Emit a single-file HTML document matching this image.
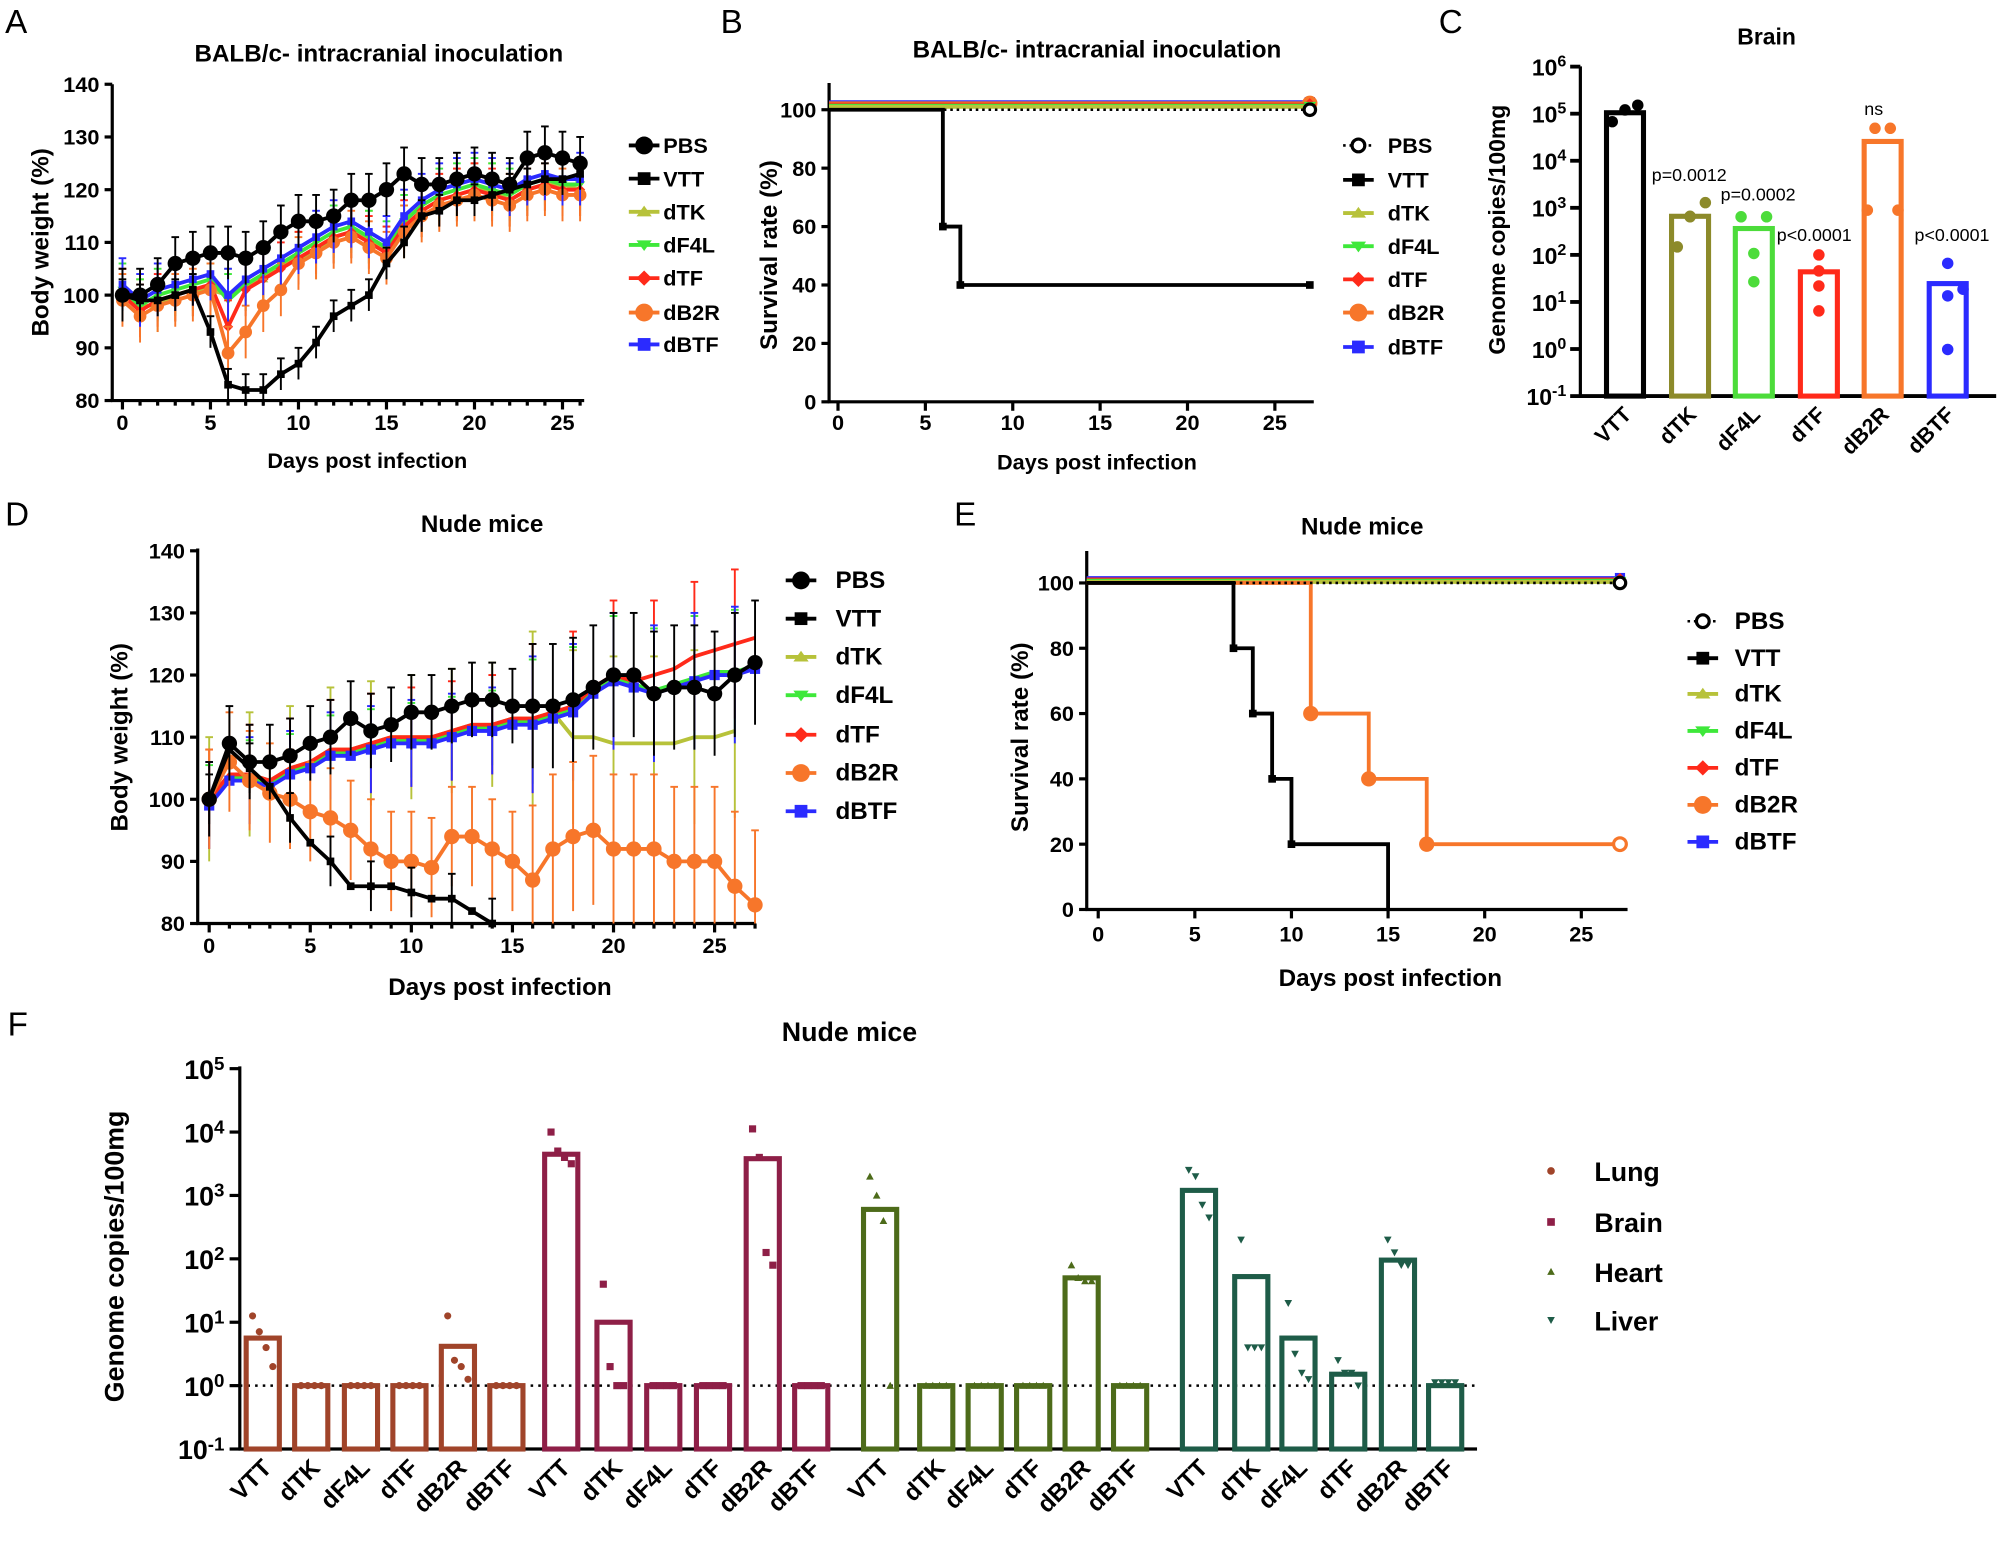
<!DOCTYPE html>
<html><head><meta charset="utf-8"><style>
html,body{margin:0;padding:0;background:#fff}
svg{display:block}
text{font-family:"Liberation Sans",Arial,sans-serif;font-weight:bold;fill:#000}
.t{font-size:17px}.pl{font-size:26px;font-weight:normal}
</style></head><body>
<svg id="s" width="2000" height="1546" viewBox="0 0 1568 1212" xmlns="http://www.w3.org/2000/svg">
<g id="g"></g>
<text class="pl" x="4" y="26">A</text><text class="pl" x="565" y="26">B</text><text class="pl" x="1128" y="26">C</text>
<text class="pl" x="4" y="412">D</text><text class="pl" x="748" y="412">E</text><text class="pl" x="6" y="812">F</text>
<text x="297" y="48" text-anchor="middle" style="font-size:19px">BALB/c- intracranial inoculation</text>
<text x="860" y="45" text-anchor="middle" style="font-size:19px">BALB/c- intracranial inoculation</text>
<text x="1385" y="35" text-anchor="middle" style="font-size:18px">Brain</text>
<text x="378" y="417" text-anchor="middle" style="font-size:19px">Nude mice</text>
<text x="1068" y="419" text-anchor="middle" style="font-size:19px">Nude mice</text>
<text x="666" y="816" text-anchor="middle" style="font-size:21px">Nude mice</text>
<text x="288" y="367" text-anchor="middle" class="t">Days post infection</text>
<text x="860" y="368" text-anchor="middle" class="t">Days post infection</text>
<text x="392" y="780" text-anchor="middle" style="font-size:19px">Days post infection</text>
<text x="1090" y="773" text-anchor="middle" style="font-size:19px">Days post infection</text>
<text transform="translate(38,190) rotate(-90)" text-anchor="middle" style="font-size:19px">Body weight (%)</text>
<text transform="translate(609,200) rotate(-90)" text-anchor="middle" style="font-size:19px">Survival rate (%)</text>
<text transform="translate(1180,180) rotate(-90)" text-anchor="middle" style="font-size:18px">Genome copies/100mg</text>
<text transform="translate(100,578) rotate(-90)" text-anchor="middle" style="font-size:19px">Body weight (%)</text>
<text transform="translate(806,578) rotate(-90)" text-anchor="middle" style="font-size:19px">Survival rate (%)</text>
<text transform="translate(97,985) rotate(-90)" text-anchor="middle" style="font-size:21px">Genome copies/100mg</text>
<g style="font-size:14px">
<text x="1295" y="142" style="font-weight:normal">p=0.0012</text>
<text x="1349" y="157" style="font-weight:normal">p=0.0002</text>
<text x="1393" y="189" style="font-weight:normal">p&lt;0.0001</text>
<text x="1469" y="90" text-anchor="middle" style="font-weight:normal">ns</text>
<text x="1501" y="189" style="font-weight:normal">p&lt;0.0001</text>
</g>
</svg>
<script>
const g=document.getElementById('g');const NS='http://www.w3.org/2000/svg';
function el(t,a,p){const e=document.createElementNS(NS,t);for(const k in a)e.setAttribute(k,a[k]);(p||g).appendChild(e);return e}
function tx(x,y,s,o){o=o||{};const e=el('text',Object.assign({x,y,'text-anchor':o.a||'middle','font-size':o.fs||16},o.at||{}));e.textContent=s;if(o.tr)e.setAttribute('transform',o.tr);return e}
function ln(x1,y1,x2,y2,c,w,d){return el('line',{x1,y1,x2,y2,stroke:c||'#000','stroke-width':w||2.5,'stroke-dasharray':d||''})}
function pl(pts,c,w,d){return el('polyline',{points:pts.map(p=>p.join(',')).join(' '),fill:'none',stroke:c,'stroke-width':w||3,'stroke-dasharray':d||''})}
function sup(x,y,e,fs){const t=el('text',{x,y,'text-anchor':'end','font-size':fs||16});t.textContent='10';const s=el('tspan',{dy:-7,'font-size':(fs||16)*0.7},t);s.textContent=e;}
const C={PBS:'#000',VTT:'#000',dTK:'#b7c23a',dF4L:'#3ee83a',dTF:'#ff2a1a',dB2R:'#f7762a',dBTF:'#2b2bff'};
function mk(x,y,n,r){r=r||5;const c=C[n];
 if(n=='PBS'||n=='dB2R')el('circle',{cx:x,cy:y,r:r+1,fill:c});
 else if(n=='VTT'||n=='dBTF')el('rect',{x:x-r+1,y:y-r+1,width:2*r-2,height:2*r-2,fill:c});
 else if(n=='dTK')el('path',{d:`M${x-r},${y+r*0.6}L${x+r},${y+r*0.6}L${x},${y-r*0.8}Z`,fill:c});
 else if(n=='dF4L')el('path',{d:`M${x-r},${y-r*0.6}L${x+r},${y-r*0.6}L${x},${y+r*0.8}Z`,fill:c});
 else el('path',{d:`M${x-r},${y}L${x},${y-r}L${x+r},${y}L${x},${y+r}Z`,fill:c});}
function legend(x,tx0,ys,fs,dash){const ns=['PBS','VTT','dTK','dF4L','dTF','dB2R','dBTF'];ns.forEach((n,i)=>{
 if(n=='PBS'&&dash){ln(x-12,ys[i],x+12,ys[i],'#000',2,'2,3');el('circle',{cx:x,cy:ys[i],r:5,fill:'#fff',stroke:'#000','stroke-width':2.5})}
 else{ln(x-12,ys[i],x+12,ys[i],C[n],3);mk(x,ys[i],n,6)}
 tx(tx0,ys[i]+6,n,{a:'start',fs:fs,at:{'font-weight':'bold'}})})}
(function(){const X=d=>96+d*13.8,Y=v=>314-(v-80)*4.133;
ln(88,66,88,315);ln(87,314,458,314);
[80,90,100,110,120,130,140].forEach(v=>{ln(82,Y(v),88,Y(v));tx(78,Y(v)+6,v,{a:'end',fs:17})});
for(let d=0;d<=26;d++){ln(X(d),314,X(d),d%5==0?321:318)}
[0,5,10,15,20,25].forEach(d=>tx(X(d),337,d,{fs:17}));
const base=[100,97,99,100,101,102,98,101,103,105,107,109,111,112,110,108,113,116,118,119,120,119,118,120,121,120,120];
const S={dTK:base.map((v,i)=>v+[0,1,-1,0,0,-1,2,1,0,1,0,-1,0,0,1,0,-1,0,0,0,0,1,0,0,0,1,0][i]),
dF4L:base.map((v,i)=>v+1),dTF:base.map((v,i)=>v+(i==6?-4:0)),
dB2R:base.map((v,i)=>i==6?89:i==7?93:i==8?98:i==9?101:v-1),dBTF:base.map((v,i)=>v+2),
VTT:[100,99,99,100,101,93,83,82,82,85,87,91,96,98,100,106,110,115,116,118,118,119,120,121,122,122,123],
PBS:[100,100,102,106,107,108,108,107,109,112,114,114,115,118,118,120,123,121,121,122,123,122,121,126,127,126,125]};
['dTK','dF4L','dTF','dB2R','dBTF','VTT','PBS'].forEach(n=>{const a=S[n];
 a.forEach((v,i)=>{const e=n=='VTT'?3:5;ln(X(i),Y(v-e),X(i),Y(v+e),C[n],1.5);ln(X(i)-3,Y(v+e),X(i)+3,Y(v+e),C[n],1.5)});
 pl(a.map((v,i)=>[X(i),Y(v)]),C[n],3);a.forEach((v,i)=>mk(X(i),Y(v),n,n=='PBS'?5:4))});
legend(505,520,[114,140,166,192,218,245,270],17,false);})();
(function(){const X=d=>657+d*13.7,Y=v=>315-v*2.29;
ln(650,65,650,316);ln(649,315,1030,315);
[0,20,40,60,80,100].forEach(v=>{ln(644,Y(v),650,Y(v));tx(640,Y(v)+6,v,{a:'end',fs:17})});
[0,5,10,15,20,25].forEach(d=>{ln(X(d),315,X(d),322);tx(X(d),337,d,{fs:17})});
['dBTF','dB2R','dTF','dF4L','dTK'].forEach((n,i)=>{const y=Y(101+ (4-i)*0.4);ln(650,y,X(27),y,C[n],3);mk(X(27),y,n,5)});
ln(650,Y(100),X(27),Y(100),'#000',2,'2,3');el('circle',{cx:X(27),cy:Y(100),r:4.5,fill:'#fff',stroke:'#000','stroke-width':2.5});
pl([[650,Y(100)],[X(6),Y(100)],[X(6),Y(60)],[X(7),Y(60)],[X(7),Y(40)],[X(27),Y(40)]],'#000',3);
mk(X(6),Y(60),'VTT',4);mk(X(7),Y(40),'VTT',4);mk(X(27),Y(40),'VTT',4);
legend(1065,1088,[114,141,167,193,219,245,272],17,true);})();
(function(){const Y=e=>310.5-(e+1)*36.9;
ln(1239,52,1239,311);ln(1238,310.5,1565,310.5,'#000',3);
[-1,0,1,2,3,4,5,6].forEach(e=>{ln(1231,Y(e),1239,Y(e),'#000',3);sup(1228,Y(e)+7,e,18)});
const bars=[['VTT',1274,'#000',5.02,[4.83,5.08,5.18]],['dTK',1325,'#8c8a2a',2.82,[2.17,2.81,2.82,3.11]],['dF4L',1375,'#4cdc3a',2.56,[2.81,2.03,1.43,2.81]],
['dTF',1426,'#ff2a1a',1.64,[2.0,1.66,1.34,0.81]],['dB2R',1476,'#f7762a',4.41,[2.95,4.69,4.69,2.95]],['dBTF',1527,'#2b2bff',1.39,[1.82,1.13,-0.01,1.27]]];
bars.forEach(b=>{el('rect',{x:b[1]-14.5,y:Y(b[3]),width:29,height:310.5-Y(b[3]),fill:'none',stroke:b[2],'stroke-width':4});
 const n=b[4].length;b[4].forEach((e,i)=>{let px=n==3?b[1]-10+i*10:(b[0]=='dB2R'?[b[1]-12,b[1]-6,b[1]+6,b[1]+12][i]:(b[0]=='dF4L'?[b[1]-10,b[1],b[1],b[1]+10][i]:[b[1]-10,b[1],b[1],b[1]+12][i]));
  if(b[0]=='dTF'||b[0]=='dBTF')px=b[1]+(i==3&&b[0]=='dBTF'?12:0);
  el('circle',{cx:px,cy:Y(e),r:4.5,fill:b[2]})});
 tx(b[1]+6,326,b[0],{a:'end',fs:17,tr:`rotate(-45 ${b[1]+6} 326)`,at:{'font-weight':'bold'}})});})();
(function(){const X=d=>164+d*15.85,Y=v=>724-(v-80)*4.87;
ln(155,430,155,725);ln(154,724,592,724);
[80,90,100,110,120,130,140].forEach(v=>{ln(149,Y(v),155,Y(v));tx(145,Y(v)+6,v,{a:'end',fs:17})});
for(let d=0;d<=27;d++)ln(X(d),724,X(d),d%5==0?731:728);
[0,5,10,15,20,25].forEach(d=>tx(X(d),747,d,{fs:17}));
const ot=[100,104,104,103,105,106,108,108,109,110,110,110,111,112,112,113,113,114,115,118,120,119,118,119,120,121,121,122];
const S={dTK:ot.map((v,i)=>i<18?v:[110,110,109,109,109,109,110,110,111][i-18]),dF4L:ot.map(v=>v-0.5),
dTF:ot.map((v,i)=>i<21?v:[119,119,120,121,123,124,125,126][i-20]),dBTF:ot.map((v,i)=>v-1),
dB2R:[100,106,103,101,100,98,97,95,92,90,90,89,94,94,92,90,87,92,94,95,92,92,92,90,90,90,86,83],
VTT:[100,108,105,102,97,93,90,86,86,86,85,84,84,82,80],
PBS:[100,109,106,106,107,109,110,113,111,112,114,114,115,116,116,115,115,115,116,118,120,120,117,118,118,117,120,122]};
const E={dTK:10,dF4L:6,dTF:8,dBTF:7,dB2R:8,VTT:4,PBS:6};
['dTK','dF4L','dTF','dBTF','dB2R','VTT','PBS'].forEach(n=>{const a=S[n];
 a.forEach((v,i)=>{let e=E[n]+(n!='VTT'&&i>15?4:0);if(i%2&&n!='PBS'&&n!='dB2R')return;ln(X(i),Y(Math.max(80,v-e)),X(i),Y(v+e),C[n],1.5);ln(X(i)-3,Y(v+e),X(i)+3,Y(v+e),C[n],1.5)});
 pl(a.map((v,i)=>[X(i),Y(v)]),C[n],3);
 if(n=='PBS'||n=='VTT'||n=='dB2R'||n=='dBTF')a.forEach((v,i)=>mk(X(i),Y(v),n,n=='VTT'?4:5))});
legend(628,655,[455,485,515,545,576,606,636],19,false);})();
(function(){const X=d=>861+d*15.15,Y=v=>713-v*2.56;
ln(852,432,852,714);ln(851,713,1276,713);
[0,20,40,60,80,100].forEach(v=>{ln(846,Y(v),852,Y(v));tx(842,Y(v)+6,v,{a:'end',fs:17})});
[0,5,10,15,20,25].forEach(d=>{ln(X(d),713,X(d),720);tx(X(d),738,d,{fs:17})});
['dBTF','dTF','dF4L','dTK'].forEach((n,i)=>{const y=Y(101.5-i*0.4);ln(852,y,X(27),y,C[n],3);mk(X(27),y,n,5)});
pl([[852,Y(100)],[X(11),Y(100)],[X(11),Y(60)],[X(14),Y(60)],[X(14),Y(40)],[X(17),Y(40)],[X(17),Y(20)],[X(27),Y(20)]],C.dB2R,3);
[[11,60],[14,40],[17,20]].forEach(p=>mk(X(p[0]),Y(p[1]),'dB2R',5));
el('circle',{cx:X(27),cy:Y(20),r:5,fill:'#fff',stroke:C.dB2R,'stroke-width':2.5});
ln(852,Y(100),X(27),Y(100),'#000',2,'2,3');el('circle',{cx:X(27),cy:Y(100),r:4.5,fill:'#fff',stroke:'#000','stroke-width':2.5});
pl([[852,Y(100)],[X(7),Y(100)],[X(7),Y(80)],[X(8),Y(80)],[X(8),Y(60)],[X(9),Y(60)],[X(9),Y(40)],[X(10),Y(40)],[X(10),Y(20)],[X(15),Y(20)],[X(15),Y(0)]],'#000',3);
[[7,80],[8,60],[9,40],[10,20]].forEach(p=>mk(X(p[0]),Y(p[1]),'VTT',4));
legend(1335,1360,[487,516,544,573,602,631,660],19,true);})();
(function(){const Y=e=>1136-(e+1)*49.7;
ln(188,836,188,1137);ln(187,1136,1158,1136);
[-1,0,1,2,3,4,5].forEach(e=>{ln(180,Y(e),188,Y(e));sup(176,Y(e)+8,e,21)});
ln(188,Y(0),1158,Y(0),'#000',2,'2,4');
const cols=['#a0442a','#8e1f47','#4d6b1a','#1e5c48'];
const xs=[[206,244,283,321,359,397],[440,481,520,559,598,636],[690,734,772,810,848,886],[940,981,1018,1057,1096,1133]];
const h=[[0.75,0,0,0,0.62,0],[3.65,1.0,0,0,3.58,0],[2.78,0,0,0,1.7,0],[3.08,1.72,0.75,0.18,1.98,0]];
const pts=[[[1.1,0.85,0.6,0.3],[0,0,0,0],[0,0,0,0],[0,0,0,0],[1.1,0.4,0.3,0.1],[0,0,0,0]],
[[4,3.7,3.6,3.5],[1.6,0.3,0,0],[0,0,0,0],[0,0,0,0],[4.05,3.6,2.1,1.9],[0,0,0,0]],
[[3.3,3,2.6,0],[0,0,0,0],[0,0,0,0],[0,0,0,0],[1.9,1.7,1.65,1.65],[0,0,0,0]],
[[3.4,3.3,2.85,2.65],[2.3,0.6,0.6,0.6],[1.3,0.5,0.2,0.1],[0.4,0.2,0.2,0],[2.3,2.1,1.9,1.9],[0.05,0.05,0.05,0.05]]];
const names=['VTT','dTK','dF4L','dTF','dB2R','dBTF'];
xs.forEach((gx,gi)=>gx.forEach((x,i)=>{const c=cols[gi];
 el('rect',{x:x-13,y:Y(h[gi][i]),width:26,height:1136-Y(h[gi][i]),fill:'none',stroke:c,'stroke-width':4});
 pts[gi][i].forEach((e,k)=>{const px=x-8+k*5.3,py=Y(e);
  if(gi==0)el('circle',{cx:px,cy:py,r:2.8,fill:c});
  else if(gi==1)el('rect',{x:px-2.8,y:py-2.8,width:5.6,height:5.6,fill:c});
  else if(gi==2)el('path',{d:`M${px-3},${py+2.5}L${px+3},${py+2.5}L${px},${py-3}Z`,fill:c});
  else el('path',{d:`M${px-3},${py-2.5}L${px+3},${py-2.5}L${px},${py+3}Z`,fill:c});});
 tx(x+8,1152,names[i],{a:'end',fs:19,tr:`rotate(-45 ${x+8} 1152)`,at:{'font-weight':'bold'}})}));
const ly=[918,958,997,1035],ln2=['Lung','Brain','Heart','Liver'];
ly.forEach((y,i)=>{const c=cols[i],x=1216;
 if(i==0)el('circle',{cx:x,cy:y,r:3,fill:c});else if(i==1)el('rect',{x:x-3,y:y-3,width:6,height:6,fill:c});
 else if(i==2)el('path',{d:`M${x-3},${y+2.5}L${x+3},${y+2.5}L${x},${y-3}Z`,fill:c});else el('path',{d:`M${x-3},${y-2.5}L${x+3},${y-2.5}L${x},${y+3}Z`,fill:c});
 tx(1250,y+8,ln2[i],{a:'start',fs:21,at:{'font-weight':'normal'}})});})();
</script>
</body></html>
